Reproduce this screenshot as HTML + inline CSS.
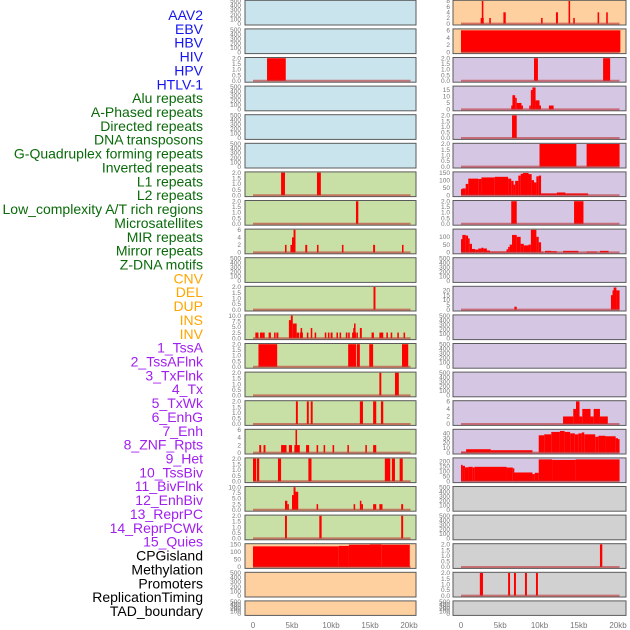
<!DOCTYPE html>
<html><head><meta charset="utf-8">
<style>
html,body{margin:0;padding:0;background:#fff;}
svg{display:block;font-family:"Liberation Sans",sans-serif;}
</style></head>
<body>
<svg id="chart" width="630" height="630" viewBox="0 0 630 630"></svg>
<script>
// ---- labels ----
const labelNames = ["AAV2","EBV","HBV","HIV","HPV","HTLV-1","Alu repeats","A-Phased repeats","Directed repeats","DNA transposons","G-Quadruplex forming repeats","Inverted repeats","L1 repeats","L2 repeats","Low_complexity A/T rich regions","Microsatellites","MIR repeats","Mirror repeats","Z-DNA motifs","CNV","DEL","DUP","INS","INV","1_TssA","2_TssAFlnk","3_TxFlnk","4_Tx","5_TxWk","6_EnhG","7_Enh","8_ZNF_Rpts","9_Het","10_TssBiv","11_BivFlnk","12_EnhBiv","13_ReprPC","14_ReprPCWk","15_Quies","CPGisland","Methylation","Promoters","ReplicationTiming","TAD_boundary"];
const labelGroups = [6,13,5,15,5];
const groupColors = ["#1515f0","#0a6a0a","#ffa500","#a020f0","#000000"];
// ---- x axis ----
const xTicks = [0,5,10,15,20];
const xTickLabels = ["0","5kb","10kb","15kb","20kb"];
// ---- panel y-maxima & backgrounds ----
const leftYmax = [500,500,2,500,500,500,2,2,6,500,2,10,2,2,2,6,2,10,2,150,500,500];
const rightYmax = [8,6.2,2,17.5,2,2,150,2,145,500,23.5,500,500,500,6,47,228,500,500,2,2,500];
const leftBg = ["b","b","b","b","b","b","g","g","g","g","g","g","g","g","g","g","g","g","g","o","o","o"];
const rightBg = ["o","o","p","p","p","p","p","p","p","p","p","p","p","p","p","p","p","r","r","r","r","r"];
// ---- left series (start kb, end kb, value) ----
const L2 = [[1.8,4.2,2]];
const L6 = [[3.6,4.1,2],[8.2,8.7,2]];
const L7 = [[13.2,13.5,2]];
const L8 = [[4.1,4.3,2],[4.8,5.1,2],[5.0,5.4,4],[5.2,5.45,6],[6.7,6.95,2],[8.2,8.4,2],[11.4,11.6,2],[15.4,15.65,2],[19.1,19.3,2]];
const L10 = [[15.45,15.7,2]];
const L11 = [[0.3,0.7,2.5],[0.9,1.2,2.5],[1.2,1.5,2.5],[2.0,2.3,2.5],[2.7,2.9,2.5],[3.0,3.25,2.5],[4.6,4.9,8],[4.85,5.1,10],[5.1,5.6,6.5],[5.6,5.9,2.5],[6.0,6.4,2.5],[6.1,6.3,4.5],[6.9,7.1,2.5],[7.4,7.6,4.5],[7.9,8.1,2.5],[9.2,9.4,2.5],[9.6,9.8,2.5],[9.95,10.2,2.5],[10.7,10.9,2.5],[11.1,11.3,2.5],[11.9,12.1,2.5],[12.2,12.4,2.5],[12.7,13.2,2.5],[12.85,13.05,4.5],[12.95,13.15,6.5],[13.25,13.45,2.5],[13.7,13.95,4.5],[15.2,15.5,2.5],[16.2,16.7,2.5],[17.1,17.3,2.5],[17.65,17.85,2.5],[18.5,18.7,2.5],[19.3,19.5,2.5]];
const L12 = [[0.7,3.1,2],[12.2,13.2,2],[13.3,13.7,2],[14.9,15.4,2],[19.1,19.9,2]];
const L13 = [[16.2,16.45,2],[18.2,18.7,2]];
const L14 = [[5.5,5.75,2],[6.9,7.15,2],[7.4,7.65,2],[13.7,14.1,2],[15.4,15.8,2],[16.4,16.7,2]];
const L15 = [[0.8,1.05,2],[1.35,1.6,2],[3.6,4.3,2],[4.6,5.0,2],[5.3,6.0,2],[5.45,5.65,6],[6.8,7.2,2],[8.15,8.35,2],[9.05,9.25,2],[10.2,10.4,2],[12.1,12.3,2],[14.4,14.6,2],[15.4,15.8,2]];
const L16 = [[0,0.4,2],[0.5,0.8,2],[3.2,3.6,2],[7.1,7.5,2],[16.9,17.6,2],[17.8,18.2,2],[18.8,19.2,2]];
const L17 = [[4.1,4.4,4],[4.4,4.6,2.5],[5.0,5.3,6.5],[5.2,5.45,10],[5.45,5.8,8],[8.15,8.35,2.5],[12.9,13.1,2.5],[13.7,13.9,4],[13.9,14.1,2.5],[15.4,15.8,2.5],[16.2,16.6,2.5],[19.0,19.25,2.5]];
const L18 = [[4.1,4.35,2],[8.5,8.8,2],[19.0,19.25,2]];
const L19 = [[0,11,137],[11,12.3,140],[12.3,15,148],[15,16.5,150],[16.5,20.1,148]];
// ---- right series ----
const R0 = [[2.5,2.9,2],[2.65,2.85,8],[3.6,3.8,2],[5.4,5.7,4],[10.2,10.4,2],[12.1,12.35,4],[13.7,13.9,8],[14.3,14.5,2],[17.4,17.6,4],[18.5,18.7,4]];
const R1 = [[0,20.3,6]];
const R2 = [[9.3,9.8,2],[18.1,19.0,2]];
const R3 = [[6.4,6.55,3],[6.55,6.9,11],[6.9,7.1,9],[7.1,7.7,5],[7.7,7.8,3],[8.7,8.9,3],[8.9,9.1,15],[9.1,9.5,17],[9.5,10.0,7],[10.0,10.15,3],[11.2,11.8,3]];
const R4 = [[6.5,7.1,2]];
const R5 = [[10,14.7,2],[16,20.2,2]];
const R6 = [[0,0.17,40],[0.17,0.6,45],[0.6,0.93,75],[0.93,2.2,110],[2.2,2.6,108],[2.6,4.3,118],[4.3,6.0,122],[6.0,6.4,110],[6.4,6.7,95],[6.7,6.9,70],[6.9,7.3,95],[7.3,7.6,130],[7.6,7.9,142],[7.9,8.6,148],[8.6,9.0,140],[9.0,9.3,100],[9.3,9.6,85],[9.6,9.9,125],[9.9,10.2,130],[10.2,12.2,12],[12.2,13.3,18],[13.3,16.2,12]];
const R7 = [[6.4,7.1,2],[14.4,15.6,2]];
const R8 = [[0,0.17,85],[0.17,0.6,112],[0.6,0.9,108],[0.9,1.1,90],[1.1,1.4,55],[1.4,1.8,22],[1.8,2.2,18],[2.2,2.6,25],[2.6,2.85,30],[2.85,3.3,25],[3.3,3.7,12],[3.7,5.8,6],[5.8,6.0,20],[6.0,6.2,35],[6.2,6.5,50],[6.5,7.1,112],[7.1,7.6,100],[7.6,8.0,55],[8.0,8.6,45],[8.6,8.9,50],[8.9,9.6,145],[9.6,9.9,100],[9.9,10.2,65],[10.2,10.5,5],[10.7,11.5,10],[11.5,12.2,8],[13.0,14.95,10],[16.0,17.3,6],[17.7,18.8,10]];
const R10 = [[6.8,7.1,3],[19.1,19.3,15],[19.3,19.45,20],[19.45,19.8,23],[19.8,20.2,20]];
const R14 = [[13.0,14.3,2],[14.3,14.65,4],[14.65,15.1,6],[15.1,15.45,2],[15.45,16.5,4],[16.5,16.9,2],[16.9,17.7,4],[17.7,18.7,2]];
const R15 = [[0,0.65,2],[0.65,3.8,7],[3.8,9.1,5],[9.9,10.6,36],[10.6,11.5,38],[11.5,12.6,43],[12.6,13.2,45],[13.2,13.9,43],[13.9,14.5,40],[14.5,14.95,38],[14.95,15.4,40],[15.4,15.7,42],[15.7,17.1,38],[17.1,17.5,33],[17.5,18.4,35],[18.4,19.7,34],[19.7,20.0,30],[20.0,20.2,28]];
const R16 = [[0,0.2,165],[0.2,0.5,155],[0.5,0.95,140],[0.95,1.5,145],[1.5,1.7,138],[1.7,5.8,145],[5.8,6.6,138],[6.6,6.75,130],[6.75,9.1,88],[9.1,9.4,72],[9.4,9.9,85],[9.9,11.6,220],[11.6,14.6,215],[14.6,20.2,220]];
const R19 = [[17.7,18.0,2]];
const R20 = [[2.4,2.8,2],[6.0,6.25,2],[6.75,7.0,2],[8.15,8.4,2],[9.55,9.8,2]];

const leftSeries = {2:L2,6:L6,7:L7,8:L8,10:L10,11:L11,12:L12,13:L13,14:L14,15:L15,16:L16,17:L17,18:L18,19:L19};
const rightSeries = {0:R0,1:R1,2:R2,3:R3,4:R4,5:R5,6:R6,7:R7,8:R8,10:R10,14:R14,15:R15,16:R16,19:R19,20:R20};
const tickSets = {
  500:[0,100,200,300,400,500], 2:[0,0.5,1,1.5,2], 6:[0,2,4,6], 10:[0,2.5,5,7.5,10], 150:[0,50,100,150],
  8:[0,2,4,6,8], 6.2:[0,2,4,6], 17.5:[0,5,10,15], 145:[0,50,100], 23.5:[0,5,10,15,20], 47:[0,10,20,30,40], 228:[0,50,100,150,200]
};
const tickFmt = {2:v=>v.toFixed(1),10:v=>v.toFixed(1)};

const NS = "http://www.w3.org/2000/svg";
const svg = document.getElementById("chart");
function mk(tag, attrs, parent){
  const e = document.createElementNS(NS, tag);
  for (const k in attrs) e.setAttribute(k, attrs[k]);
  (parent||svg).appendChild(e);
  return e;
}
const bgColors = {b:"#c9e4ec", g:"#c8e0a5", o:"#fed09f", p:"#d5c6e3", r:"#d1d1d1"};
const cols = [{x:245, w:171, x0:253, x20:409, lab:241}, {x:453, w:173, x0:461, x20:618, lab:450}];

function panelGeom(i){
  const top = i*28.6 + 0.3;
  const h = i===21 ? 14.5 : 24.7;
  return {top, h};
}

// labels
let li = 0;
labelGroups.forEach((n,g)=>{
  for (let k=0;k<n;k++){
    const t = mk("text", {x:203, y:20 + li*13.86, "text-anchor":"end", "font-size":"14", fill:groupColors[g]});
    
    
    t.textContent = labelNames[li];
    li++;
  }
});

function drawColumn(c, ymaxArr, bgArr, series, side){
  const col = cols[c];
  const xs = kb => col.x0 + (col.x20 - col.x0) * kb / 20;
  for (let i=0;i<22;i++){
    const g = panelGeom(i);
    const grp = mk("g", {});
    
    
    mk("rect", {x:col.x, y:g.top, width:col.w, height:g.h, fill:bgColors[bgArr[i]], stroke:"#5a5a5a", "stroke-width":1}, grp);
    const ymax = ymaxArr[i];
    const yT = g.top + 0.7, yB = g.top + g.h - 1.4;
    const ys = v => yB - (yB - yT) * v / ymax;
    const ticks = tickSets[ymax];
    const fmt = tickFmt[ymax] || (v=>String(v));
    ticks.forEach(v=>{
      const t = mk("text", {x:col.lab, y:ys(v)+2.2, "text-anchor":"end", "font-size":"6.5", fill:"#777"}, grp);
      
      
      t.textContent = fmt(v);
    });
    const segs = series[i];
    if (segs){
      segs.forEach(s=>{
        const x1 = xs(s[0]), x2 = xs(s[1]);
        const r = mk("rect", {x:x1, y:ys(s[2]), width:Math.max(1.5, x2-x1), height:yB - ys(s[2]), fill:"#ff0000"}, grp);
        
        
      });
      const bl = mk("line", {x1:xs(0), x2:xs(20.2), y1:yB, y2:yB, stroke:"rgba(190,50,50,0.6)", "stroke-width":2}, grp);
      
      
    }
  }
  xTicks.forEach((v,k)=>{
    const t = mk("text", {x:xs(v), y:628, "text-anchor":"middle", "font-size":"8", fill:"#777"});
    
    
    t.textContent = xTickLabels[k];
  });
}
drawColumn(0, leftYmax, leftBg, leftSeries, "left");
drawColumn(1, rightYmax, rightBg, rightSeries, "right");
</script>
</body></html>
